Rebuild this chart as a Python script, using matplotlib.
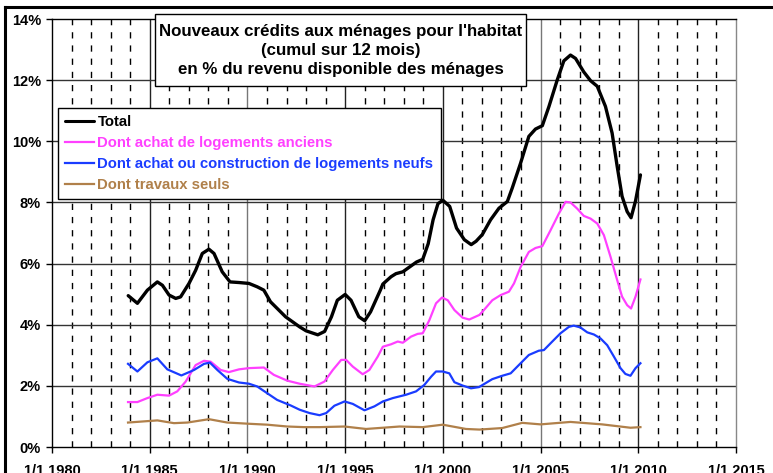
import matplotlib
matplotlib.use('Agg')
import matplotlib.pyplot as plt
from matplotlib.lines import Line2D
from matplotlib.patches import Rectangle

plt.rcParams['font.family'] = ['Liberation Sans', 'DejaVu Sans']

# ---------------- data ----------------
total_years = [1983.9, 1984.37, 1984.88, 1985.39, 1985.65, 1985.99, 1986.33, 1986.58, 1987.01, 1987.35,
               1987.69, 1988.03, 1988.29, 1988.71, 1989.11, 1989.57, 1990.08, 1990.5, 1990.84, 1991.18,
               1991.95, 1992.67, 1993.0, 1993.6, 1993.95, 1994.3, 1994.6, 1995.0, 1995.3, 1995.7,
               1996.0, 1996.3, 1996.8, 1996.93, 1997.35, 1997.6, 1997.95, 1998.3, 1998.65, 1998.97,
               1999.25, 1999.5, 1999.75, 2000.0, 2000.35, 2000.7, 2001.1, 2001.45, 2001.7, 2002.02,
               2002.44, 2002.87, 2003.3, 2003.55, 2003.98, 2004.4, 2004.74, 2005.09, 2005.43, 2005.85,
               2006.19, 2006.53, 2006.79, 2007.21, 2007.56, 2007.9, 2008.32, 2008.66, 2008.92, 2009.17,
               2009.43, 2009.63, 2009.86, 2010.11]
total_values = [4.95, 4.70, 5.13, 5.40, 5.29, 4.97, 4.86, 4.91, 5.35, 5.78,
                6.33, 6.47, 6.33, 5.73, 5.40, 5.38, 5.35, 5.24, 5.13, 4.75,
                4.26, 3.93, 3.80, 3.67, 3.78, 4.26, 4.80, 4.99, 4.80, 4.26,
                4.13, 4.42, 5.13, 5.33, 5.57, 5.67, 5.73, 5.89, 6.05, 6.14,
                6.65, 7.43, 7.96, 8.07, 7.87, 7.16, 6.78, 6.62, 6.73, 6.95,
                7.43, 7.81, 8.03, 8.47, 9.29, 10.16, 10.40, 10.51, 11.14, 12.0,
                12.63, 12.82, 12.71, 12.27, 11.98, 11.80, 11.14, 10.27, 9.18, 8.20,
                7.70, 7.50, 8.05, 8.9]

anciens_years = [1983.89, 1984.37, 1984.88, 1985.39, 1985.99, 1986.41, 1986.84, 1987.35, 1987.78, 1988.12,
                 1988.63, 1989.05, 1989.57, 1990.08, 1990.84, 1991.35, 1992.04, 1992.67, 1993.43, 1993.94,
                 1994.37, 1994.8, 1995.05, 1995.39, 1995.9, 1996.24, 1996.67, 1996.93, 1997.35, 1997.69,
                 1997.95, 1998.37, 1998.71, 1998.97, 1999.31, 1999.65, 1999.96, 2000.25, 2000.59, 2001.01,
                 2001.35, 2001.87, 2002.02, 2002.53, 2002.96, 2003.38, 2003.64, 2003.98, 2004.4, 2004.74,
                 2005.09, 2005.51, 2005.94, 2006.28, 2006.53, 2006.87, 2007.21, 2007.56, 2007.9, 2008.24,
                 2008.58, 2008.92, 2009.17, 2009.43, 2009.63, 2009.86, 2010.11]
anciens_values = [1.47, 1.47, 1.60, 1.71, 1.68, 1.82, 2.14, 2.68, 2.82, 2.79,
                  2.52, 2.45, 2.54, 2.58, 2.60, 2.36, 2.17, 2.07, 1.98, 2.14,
                  2.52, 2.85, 2.85, 2.63, 2.38, 2.52, 2.96, 3.28, 3.36, 3.45,
                  3.41, 3.61, 3.70, 3.72, 4.15, 4.70, 4.89, 4.80, 4.48, 4.23,
                  4.17, 4.32, 4.42, 4.80, 4.97, 5.08, 5.35, 5.89, 6.38, 6.51,
                  6.57, 7.09, 7.64, 8.02, 8.0, 7.8, 7.56, 7.47, 7.31, 6.93,
                  6.22, 5.46, 4.92, 4.64, 4.53, 4.92, 5.48]

neufs_years = [1983.89, 1984.37, 1984.88, 1985.39, 1985.90, 1986.62, 1987.27, 1987.78, 1988.08, 1988.46,
               1988.97, 1989.57, 1990.08, 1990.50, 1991.01, 1991.52, 1992.21, 1992.67, 1993.18, 1993.69,
               1994.03, 1994.45, 1994.97, 1995.39, 1995.99, 1996.50, 1996.93, 1997.44, 1998.12, 1998.63,
               1999.05, 1999.40, 1999.65, 1999.99, 2000.33, 2000.59, 2001.01, 2001.44, 2001.85, 2002.19,
               2002.53, 2003.04, 2003.47, 2003.98, 2004.40, 2004.91, 2005.17, 2005.60, 2006.02, 2006.45,
               2006.70, 2007.04, 2007.39, 2007.73, 2008.07, 2008.41, 2008.75, 2009.09, 2009.34, 2009.60,
               2009.86, 2010.11]
neufs_values = [2.72, 2.47, 2.77, 2.90, 2.54, 2.34, 2.52, 2.72, 2.76, 2.52,
                2.23, 2.11, 2.07, 1.98, 1.76, 1.54, 1.36, 1.22, 1.11, 1.04,
                1.11, 1.35, 1.49, 1.41, 1.20, 1.33, 1.49, 1.60, 1.71, 1.82,
                2.03, 2.30, 2.47, 2.47, 2.41, 2.12, 2.01, 1.92, 1.96, 2.09,
                2.22, 2.33, 2.41, 2.74, 3.01, 3.15, 3.17, 3.45, 3.72, 3.93,
                3.97, 3.91, 3.75, 3.68, 3.55, 3.33, 2.96, 2.58, 2.39, 2.33,
                2.58, 2.74]

travaux_years = [1983.89, 1985.39, 1986.24, 1986.93, 1988.03, 1988.97, 1990.08, 1991.01, 1992.04, 1992.89,
                 1993.69, 1994.97, 1996.07, 1997.78, 1998.97, 1999.99, 2001.18, 2001.87, 2003.04, 2004.06,
                 2005.0, 2006.53, 2008.15, 2009.60, 2010.11]
travaux_values = [0.80, 0.87, 0.78, 0.80, 0.91, 0.80, 0.76, 0.73, 0.67, 0.65,
                  0.65, 0.67, 0.59, 0.67, 0.65, 0.73, 0.59, 0.57, 0.62, 0.79,
                  0.74, 0.82, 0.74, 0.63, 0.65]

series_labels = ["Total",
                 "Dont achat de logements anciens",
                 "Dont achat ou construction de logements neufs",
                 "Dont travaux seuls"]
x_ticks = [1980, 1985, 1990, 1995, 2000, 2005, 2010, 2015]
x_tick_labels = ["1/1 1980", "1/1 1985", "1/1 1990", "1/1 1995",
                 "1/1 2000", "1/1 2005", "1/1 2010", "1/1 2015"]
y_ticks = [0, 2, 4, 6, 8, 10, 12, 14]
y_tick_labels = ["0%", "2%", "4%", "6%", "8%", "10%", "12%", "14%"]
title_text = ("Nouveaux crédits aux ménages pour l'habitat\n"
              "(cumul sur 12 mois)\n"
              "en % du revenu disponible des ménages")

# ---------------- figure ----------------
W, H = 773, 473
fig = plt.figure(figsize=(W / 100, H / 100), dpi=100)
fig.patch.set_facecolor('white')
ax = fig.add_axes([52 / W, 1 - 447 / H, (736 - 52) / W, (447 - 19) / H])
ax.set_xlim(1980, 2015)
ax.set_ylim(0, 14)

# grid: dashed yearly lines, solid lines at 5-year ticks and every 2%
for yr in range(1981, 2015):
    if yr % 5 == 0:
        gc = '#777777' if yr in (1990, 2005) else '#222222'
        ax.axvline(yr, color=gc, lw=1.0, zorder=1)
    else:
        ax.axvline(yr, color='black', lw=1.0, linestyle=(0, (4.5, 5.0)), zorder=1)
for v in y_ticks[1:-1]:
    ax.axhline(v, color='#333333', lw=1.0, zorder=1)

colors = ['black', '#ff40ff', '#1a3cff', '#b0804a']
l0, = ax.plot(total_years, total_values, color=colors[0], lw=2.4, zorder=4,
              solid_joinstyle='round', solid_capstyle='round')
l1, = ax.plot(anciens_years, anciens_values, color=colors[1], lw=1.6, zorder=3,
              solid_joinstyle='round')
l2, = ax.plot(neufs_years, neufs_values, color=colors[2], lw=1.6, zorder=3,
              solid_joinstyle='round')
l3, = ax.plot(travaux_years, travaux_values, color=colors[3], lw=1.6, zorder=3,
              solid_joinstyle='round')

# axes styling
for s in ['left', 'bottom', 'top']:
    ax.spines[s].set_color('black')
    ax.spines[s].set_linewidth(1.0)
ax.spines['right'].set_color('#888888')
ax.spines['right'].set_linewidth(1.0)

ax.set_xticks(x_ticks)
ax.set_xticklabels(x_tick_labels, fontweight='bold', fontsize=10.5)
ax.set_yticks(y_ticks)
ax.set_yticklabels(y_tick_labels, fontweight='bold', fontsize=10.5)
ax.tick_params(axis='y', direction='out', length=4, width=1, pad=4)
ax.tick_params(axis='x', direction='out', length=4, width=1, pad=8)

# legend
leg = ax.legend([l0, l1, l2, l3], series_labels, loc='upper left',
                bbox_to_anchor=(58 / W, 1 - 108 / H), bbox_transform=fig.transFigure,
                borderaxespad=0, frameon=True, fancybox=False, framealpha=1,
                edgecolor='black', prop={'weight': 'bold', 'size': 10.7},
                handlelength=1.95, handletextpad=0.2, labelspacing=0.46,
                borderpad=0.5)
leg.get_frame().set_linewidth(1.0)
for t, c in zip(leg.get_texts(), colors):
    t.set_color(c)
for h in leg.legend_handles:
    h.set_linewidth(2.2 if h.get_color() == 'black' else 1.6)
leg.set_zorder(6)

# title box
fig.add_artist(Rectangle((155 / W, 1 - 85.7 / H), (525.7 - 155) / W, (85.7 - 14.3) / H,
                         transform=fig.transFigure, facecolor='white',
                         edgecolor='black', lw=1.0, zorder=10))
fig.text(340.5 / W, 1 - 50.5 / H, title_text, ha='center', va='center',
         fontsize=12.2, fontweight='bold', linespacing=1.36, zorder=11)

# outer frame (top and left edges visible)
fig.add_artist(Line2D([5 / W, 5 / W], [0, 1 - 7 / H], transform=fig.transFigure,
                      color='black', lw=2.2))
fig.add_artist(Line2D([5 / W, 1], [1 - 7 / H, 1 - 7 / H], transform=fig.transFigure,
                      color='black', lw=2.2))

fig.savefig('out.png', dpi=100, facecolor='white')
